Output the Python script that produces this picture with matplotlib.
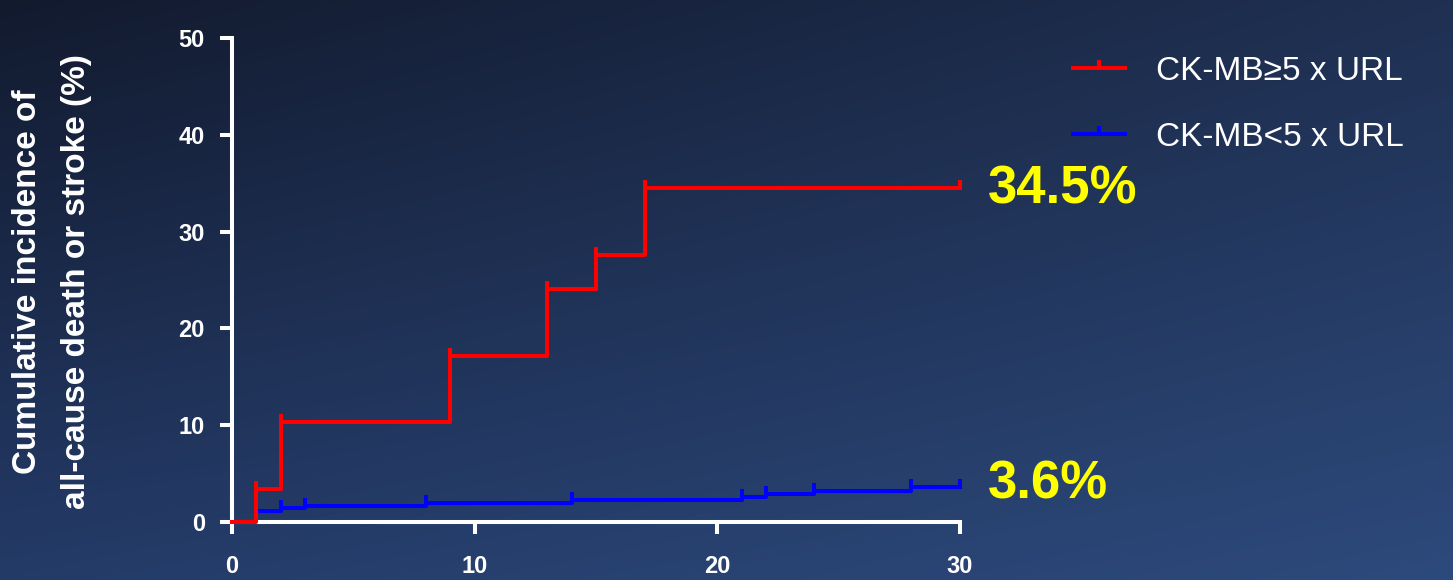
import matplotlib
matplotlib.use("Agg")
import matplotlib.pyplot as plt
import numpy as np
from matplotlib.lines import Line2D
from matplotlib.path import Path

# Kaplan-Meier style cumulative incidence
red_t = [0, 1, 2, 9, 13, 15, 17, 30]
red_y = [0, 3.4, 10.3, 17.2, 24.1, 27.6, 34.5, 34.5]
red_censor = [1, 2, 9, 13, 15, 17, 30]

blue_t = [1, 2, 3, 8, 14, 21, 22, 24, 28, 30]
blue_y = [1.1, 1.4, 1.7, 2.0, 2.3, 2.6, 2.9, 3.2, 3.6, 3.6]
blue_censor = [2, 3, 8, 14, 21, 22, 24, 28, 30]

red_label = "CK-MB≥5 x URL"
blue_label = "CK-MB<5 x URL"
red_final = "34.5%"
blue_final = "3.6%"

x_ticks = [0, 10, 20, 30]
y_ticks = [0, 10, 20, 30, 40, 50]

plt.rcParams["font.family"] = ["Liberation Sans", "DejaVu Sans"]

RED = "#ff0000"
BLUE = "#0000ff"
LW = 2.9

# upward-only censor tick
tick_marker = Path([(0, 0), (0, 1)], [Path.MOVETO, Path.LINETO])


def step_value(ts, ys, t):
    i = np.searchsorted(ts, t, side="right") - 1
    return ys[i]


fig = plt.figure(figsize=(14.53, 5.80), dpi=100)

# background gradient
bg = fig.add_axes([0, 0, 1, 1], zorder=-10)
h, w = 120, 300
yy, xx = np.mgrid[0:1:h * 1j, 0:1:w * 1j]
tl = np.array([0x12, 0x1a, 0x2e]) / 255
tr = np.array([0x1f, 0x30, 0x52]) / 255
bl = np.array([0x24, 0x3b, 0x68]) / 255
br = np.array([0x2d, 0x4a, 0x7c]) / 255
img = ((1 - xx)[..., None] * (1 - yy)[..., None] * tl
       + xx[..., None] * (1 - yy)[..., None] * tr
       + (1 - xx)[..., None] * yy[..., None] * bl
       + xx[..., None] * yy[..., None] * br)
bg.imshow(img, aspect="auto", extent=[0, 1, 0, 1], interpolation="bilinear")
bg.axis("off")

ax = fig.add_axes([232 / 1453, 1 - 522 / 580, (960 - 232) / 1453, (522 - 38) / 580])
ax.set_facecolor("none")

ax.step(blue_t, blue_y, where="post", color=BLUE, lw=LW, clip_on=False, zorder=5)
ax.plot(blue_censor, [step_value(blue_t, blue_y, t) for t in blue_censor],
        ls="none", marker=tick_marker, ms=12, mew=LW, color=BLUE, clip_on=False, zorder=5)

ax.step(red_t, red_y, where="post", color=RED, lw=LW, clip_on=False, zorder=6)
ax.plot(red_censor, [step_value(red_t, red_y, t) for t in red_censor],
        ls="none", marker=tick_marker, ms=12, mew=LW, color=RED, clip_on=False, zorder=6)

ax.set_xlim(0, 30)
ax.set_ylim(0, 50)
ax.set_xticks(x_ticks)
ax.set_yticks(y_ticks)
for s in ["top", "right"]:
    ax.spines[s].set_visible(False)
for s in ["left", "bottom"]:
    ax.spines[s].set_color("white")
    ax.spines[s].set_linewidth(LW)
ax.tick_params(colors="white", width=LW, length=8.6, labelsize=17)
ax.tick_params(axis="y", pad=11)
ax.tick_params(axis="x", pad=15)
for lab in ax.get_xticklabels() + ax.get_yticklabels():
    lab.set_fontweight("bold")

# end-of-curve percentages
ax.annotate(red_final, xy=(red_t[-1], red_y[-1]), xytext=(20, -11), textcoords="offset points",
            color="#ffff00", fontsize=38, fontweight="bold", va="baseline", ha="left")
ax.annotate(blue_final, xy=(blue_t[-1], blue_y[-1]), xytext=(20, -8), textcoords="offset points",
            color="#ffff00", fontsize=38, fontweight="bold", va="baseline", ha="left")

handles = [
    Line2D([], [], color=RED, lw=LW, marker=tick_marker, ms=12, mew=LW),
    Line2D([], [], color=BLUE, lw=LW, marker=tick_marker, ms=12, mew=LW),
]
ax.legend(handles, [red_label, blue_label], loc="upper left",
          bbox_to_anchor=(1073 / 1453, 1 - 56 / 580), bbox_transform=fig.transFigure,
          frameon=False, fontsize=24, labelcolor="white", handlelength=1.55,
          handletextpad=0.95, labelspacing=1.05, borderpad=0, borderaxespad=0, numpoints=1)

fig.text(28 / 1453, 1 - 282 / 580, "Cumulative incidence of", rotation=90,
         color="white", fontsize=24, fontweight="bold", ha="center", va="center")
fig.text(77 / 1453, 1 - 282 / 580, "all-cause death or stroke (%)", rotation=90,
         color="white", fontsize=24, fontweight="bold", ha="center", va="center")

fig.savefig("out.png", dpi=100)
